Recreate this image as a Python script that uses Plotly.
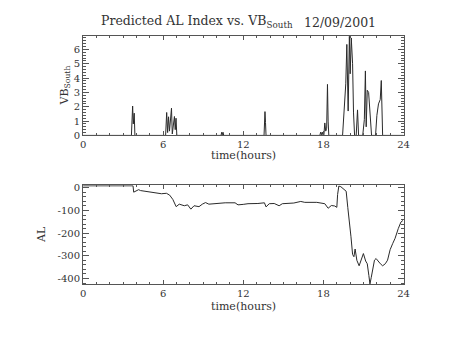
import plotly.graph_objects as go

# Southward IMF component (VB_South) over the day, hours UT
vb_time = [0.0, 3.62, 3.71, 3.76, 3.83, 3.88,
           6.18, 6.26, 6.33, 6.40, 6.47, 6.55, 6.62, 6.68, 6.76, 6.84, 6.90, 6.96, 7.02,
           10.33, 10.38, 10.43, 10.48, 10.53,
           13.55, 13.62, 13.66, 13.70,
           17.73, 17.79, 17.85, 17.91, 17.97, 18.03, 18.10, 18.17, 18.24, 18.30, 18.35, 18.40,
           19.43, 19.55, 19.67, 19.75, 19.85, 19.94, 20.00, 20.08, 20.18, 20.25, 20.33,
           20.45, 20.55, 20.63,
           20.94, 21.06, 21.14, 21.20, 21.28, 21.38, 21.48, 21.60,
           21.90, 22.00, 22.12, 22.25, 22.33, 22.38, 22.43, 24.0]
vb_value = [0.0, 0.0, 2.05, 0.8, 1.55, 0.0,
            0.0, 1.6, 0.2, 1.3, 0.3, 1.0, 1.9, 0.1, 1.0, 1.32, 0.4, 1.2, 0.0,
            0.0, 0.22, 0.05, 0.22, 0.0,
            0.0, 1.66, 0.9, 0.0,
            0.0, 0.23, 0.05, 0.23, 0.0, 0.0, 0.87, 0.3, 0.5, 3.56, 1.0, 0.0,
            0.0, 1.78, 3.6, 6.35, 1.7, 6.92, 4.3, 6.8, 5.0, 1.57, 0.0,
            0.0, 1.78, 0.0,
            0.0, 1.1, 4.5, 0.6, 3.15, 3.0, 1.3, 0.0,
            0.0, 1.4, 2.2, 2.5, 3.83, 2.0, 0.0, 0.0]

# Predicted AL index, nT
al_time = [0.0, 3.74, 3.79, 3.95, 4.16, 4.30, 4.77, 5.14, 5.50, 5.87, 6.24, 6.48, 6.72, 6.97,
           7.20, 7.58, 7.83, 8.07, 8.31, 8.68, 8.93, 9.17, 9.42, 9.90, 10.64, 11.38, 11.60,
           11.99, 12.35, 13.09, 13.58, 13.70, 13.94, 14.31, 14.68, 14.92, 15.78, 16.30, 16.60,
           17.50, 18.10, 18.35, 18.59, 18.84, 19.00, 19.06, 19.15, 19.30, 19.57, 19.70, 19.82,
           19.94, 20.06, 20.18, 20.28, 20.37, 20.50, 20.67, 20.80, 20.99, 21.16, 21.28, 21.40,
           21.48, 21.58, 21.70, 21.82, 21.94, 22.10, 22.26, 22.43, 22.63, 22.80, 22.99, 23.19,
           23.36, 23.60, 23.80, 23.95]
al_value = [9, 9, -19, -15, -8, -12, -17, -19, -23, -26, -24, -32, -51, -83,
            -72, -79, -75, -94, -79, -83, -72, -65, -72, -69, -66, -66, -75,
            -73, -70, -69, -66, -84, -70, -69, -79, -70, -67, -60, -64,
            -64, -70, -90, -78, -80, -86, -29, 8, 5, -8, -15, -86,
            -144, -216, -294, -304, -270, -320, -344, -323, -290, -323, -335, -387,
            -424, -395, -355, -319, -312, -325, -335, -344, -335, -319, -273, -245,
            -223, -180, -151, -144]

x_ticks = [0, 6, 12, 18, 24]
x_tick_text = ["0", "6", "12", "18", "24"]
vb_ticks = [0, 1, 2, 3, 4, 5, 6]
vb_tick_text = ["0", "1", "2", "3", "4", "5", "6"]
al_ticks = [0, -100, -200, -300, -400]
al_tick_text = ["0", "-100", "-200", "-300", "-400"]

W, H = 454, 341
FONT = "DejaVu Serif"
INK = "#333333"
AXIS = "#555555"


def px_x(p):
    return p / W


def px_y(p):
    return 1 - p / H


fig = go.Figure()
fig.add_trace(go.Scatter(x=vb_time, y=vb_value, mode="lines", xaxis="x", yaxis="y",
                         line=dict(color="#2a2a2a", width=1), showlegend=False))
fig.add_trace(go.Scatter(x=al_time, y=al_value, mode="lines", xaxis="x2", yaxis="y2",
                         line=dict(color="#2a2a2a", width=1), showlegend=False))

x_dom = [px_x(81.7), px_x(408.7)]
common_x = dict(range=[0, 24], tickvals=x_ticks, ticktext=x_tick_text,
                ticks="inside", ticklen=4, tickcolor=AXIS, mirror="allticks",
                showline=True, linecolor=AXIS, linewidth=1, showgrid=False, zeroline=False,
                tickfont=dict(family=FONT, size=10, color=INK),
                minor=dict(ticks="inside", ticklen=2, dtick=1, tickcolor=AXIS, showgrid=False))
common_y = dict(ticks="inside", ticklen=6, tickcolor=AXIS, mirror="allticks",
                showline=True, linecolor=AXIS, linewidth=1, showgrid=False, zeroline=False,
                tickfont=dict(family=FONT, size=10, color=INK))

fig.update_layout(
    width=W, height=H, autosize=False,
    margin=dict(l=0, r=0, t=0, b=0),
    paper_bgcolor="white", plot_bgcolor="white",
    xaxis=dict(domain=x_dom, anchor="y", **common_x),
    yaxis=dict(domain=[px_y(136), px_y(34)], anchor="x", range=[0, 6.93],
               tickvals=vb_ticks, ticktext=vb_tick_text,
               minor=dict(ticks="inside", ticklen=3, dtick=0.2, tickcolor=AXIS, showgrid=False),
               **common_y),
    xaxis2=dict(domain=x_dom, anchor="y2", **common_x),
    yaxis2=dict(domain=[px_y(289), px_y(187.3)], anchor="x2", range=[-426, 11],
                tickvals=al_ticks, ticktext=al_tick_text,
                minor=dict(ticks="inside", ticklen=3, dtick=20, tickcolor=AXIS, showgrid=False),
                **common_y),
)

ann_font = dict(family=FONT, size=11, color=INK)
title_font = dict(family=FONT, size=12.5, color=INK)
fig.add_annotation(x=px_x(198), y=px_y(30), xref="paper", yref="paper",
                   text="Predicted AL Index vs. VB<sub>South</sub>", showarrow=False,
                   font=title_font, xanchor="center", yanchor="bottom")
fig.add_annotation(x=px_x(344), y=px_y(30), xref="paper", yref="paper",
                   text="12/09/2001", showarrow=False,
                   font=title_font, xanchor="center", yanchor="bottom")
fig.add_annotation(x=px_x(245), y=px_y(157), xref="paper", yref="paper",
                   text="time(hours)", showarrow=False, font=ann_font, yanchor="middle")
fig.add_annotation(x=px_x(245), y=px_y(312), xref="paper", yref="paper",
                   text="time(hours)", showarrow=False, font=ann_font, yanchor="middle")
fig.add_annotation(x=px_x(63), y=px_y(85), xref="paper", yref="paper",
                   text="VB<sub>South</sub>", textangle=-90, showarrow=False, font=ann_font,
                   xanchor="center", yanchor="middle")
fig.add_annotation(x=px_x(40), y=px_y(238), xref="paper", yref="paper",
                   text="AL", textangle=-90, showarrow=False, font=ann_font,
                   xanchor="center", yanchor="middle")

fig.write_html("out.html")
